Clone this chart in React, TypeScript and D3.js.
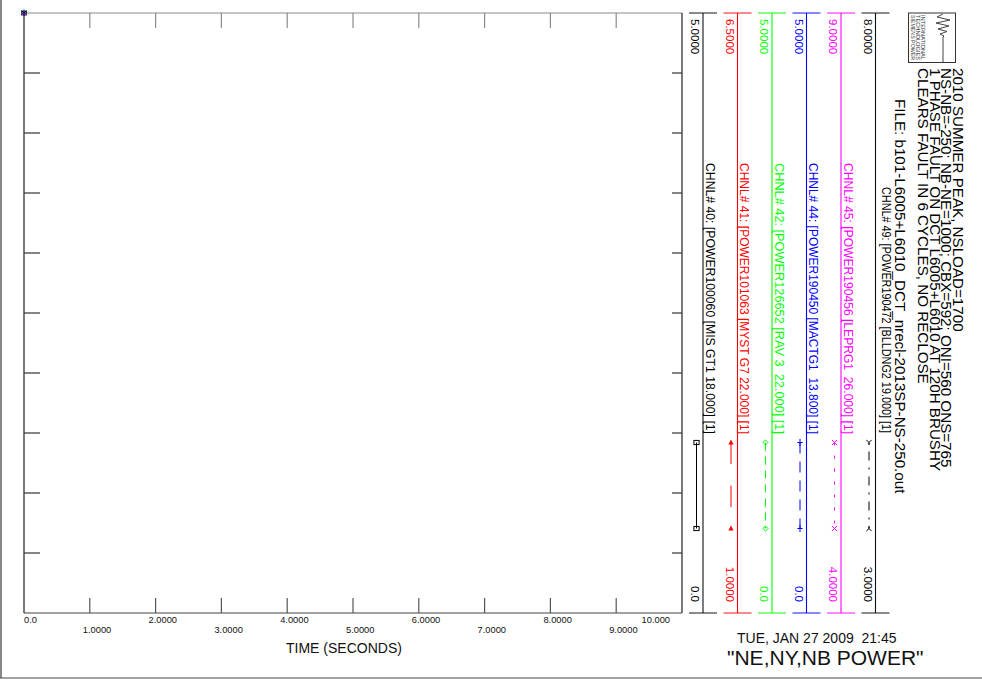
import React from "react";
import * as d3 from "d3";

// ---------- data ----------
const timeTicks = [0, 1, 2, 3, 4, 5, 6, 7, 8, 9, 10];
const timeTickLabels = ["0.0", "1.0000", "2.0000", "3.0000", "4.0000", "5.0000", "6.0000", "7.0000", "8.0000", "9.0000", "10.000"];
const yDivisions = [0, 1, 2, 3, 4, 5, 6, 7, 8, 9, 10];

const channelIds = [40, 41, 42, 44, 45, 49];
const channelNames = [
  "CHNL# 40: [POWER100060 [MIS GT1 18.000] [1]",
  "CHNL# 41: [POWER101063 [MYST G7 22.000] [1]",
  "CHNL# 42: [POWER126652 [RAV 3  22.000] [1]",
  "CHNL# 44: [POWER190450 [MACTG1  13.800] [1]",
  "CHNL# 45: [POWER190456 [LEPRG1  26.000] [1]",
  "CHNL# 49: [POWER190472 [BLLDNG2 19.000] [1]",
];
const channelMax = [5, 6.5, 5, 5, 9, 8];
const channelMaxLabels = ["5.0000", "6.5000", "5.0000", "5.0000", "9.0000", "8.0000"];
const channelMin = [0, 1, 0, 0, 4, 3];
const channelMinLabels = ["0.0", "1.0000", "0.0", "0.0", "4.0000", "3.0000"];
const channelColors = ["#000000", "#ff0000", "#00ff00", "#0000ff", "#ff00ff", "#000000"];
const capColors = ["#6e6e6e", "#ff6a6a", "#66ff66", "#6a6aff", "#ff6aff", "#6e6e6e"];
const channelMarkers = ["square", "triangle", "diamond", "plus", "cross", "fork"];
const channelDashes = ["", "21.5,21.5", "8,6", "11,8", "3,10", "2,7,9,7"];

const headerLines = [
  "2010 SUMMER PEAK, NSLOAD=1700",
  "NS-NB=-250; NB-NE=1000; CBX=592; ONI=560 ONS=765",
  "1 PHASE FAULT ON DCT L6005+L6010 AT 120H BRUSHY",
  "CLEARS FAULT IN 6 CYCLES, NO RECLOSE",
];
const fileLine = "FILE: b101-L6005+L6010_DCT_nrecl-2013SP-NS-250.out";
const logoLines = ["SIEMENS POWER", "TECHNOLOGIES", "INTERNATIONAL"];
const axisTitle = "TIME (SECONDS)";
const dateText = "TUE, JAN 27 2009  21:45";
const titleText = "\"NE,NY,NB POWER\"";

// ---------- layout ----------
const W = 982;
const H = 682;
const FONT = "'Liberation Sans', Arial, Helvetica, sans-serif";
const plot = { left: 24, right: 682, top: 13, bottom: 613 };

const x = d3.scaleLinear().domain([0, 10]).range([plot.left, plot.right]);
const y = d3.scaleLinear().domain([0, 10]).range([plot.bottom, plot.top]);
const col = d3.scalePoint<number>().domain(channelIds).range([703, 875.5]);

function Marker({ cx, cy, type, color, s = 1, flip = false }: any) {
  const r = 2.6 * s;
  switch (type) {
    case "square":
      return <rect x={cx - r} y={cy - r * 0.8} width={2 * r} height={1.6 * r} fill="none" stroke={color} strokeWidth={1} />;
    case "triangle":
      return <path d={`M${cx},${cy - r - 0.5} L${cx + r},${cy + r * 0.8} L${cx - r},${cy + r * 0.8} Z`} fill={color} />;
    case "diamond":
      return <path d={`M${cx},${cy - r} L${cx + r},${cy} L${cx},${cy + r} L${cx - r},${cy} Z`} fill="none" stroke={color} strokeWidth={1} />;
    case "plus":
      return <path d={`M${cx - r},${cy} L${cx + r},${cy} M${cx},${cy - r - 1} L${cx},${cy + r + 1}`} stroke={color} strokeWidth={1} />;
    case "cross":
      return <path d={`M${cx - r},${cy - r} L${cx + r},${cy + r} M${cx + r},${cy - r} L${cx - r},${cy + r}`} stroke={color} strokeWidth={1} />;
    case "fork": {
      const d = flip ? -1 : 1;
      return (
        <path
          d={`M${cx - r},${cy - d * r} L${cx},${cy} L${cx + r},${cy - d * r} M${cx},${cy} L${cx},${cy + d * r}`}
          stroke={color}
          strokeWidth={1}
          fill="none"
        />
      );
    }
    default:
      return null;
  }
}

function VText({ x0, y0, size, fill = "#000", anchor = "start", children, len, stretch = 1 }: any) {
  return (
    <text
      transform={`translate(${x0},${y0}) rotate(90) scale(${stretch},1)`}
      fontSize={size}
      fill={fill}
      textAnchor={anchor}
      fontFamily={FONT}
      style={{ whiteSpace: "pre" }}
      {...(len ? { textLength: len, lengthAdjust: "spacingAndGlyphs" } : {})}
    >
      {children}
    </text>
  );
}

export default function App() {
  const innerTicks = timeTicks.slice(1, -1);
  const innerY = yDivisions.slice(1, -1);
  const last = timeTicks.length - 1;
  const sampleTop = 442.5;
  const sampleBottom = 528.5;

  return (
    <svg
      width={W}
      height={H}
      viewBox={`0 0 ${W} ${H}`}
      style={{ position: "absolute", left: 0, top: 0, background: "#fff" }}
      fontFamily={FONT}
    >
      <rect x={0} y={0} width={W} height={H} fill="#fff" />
      {/* outer frame */}
      <line x1={1} y1={0} x2={1} y2={678} stroke="#888" strokeWidth={2} />
      <line x1={0} y1={678} x2={W} y2={678} stroke="#444" strokeWidth={1.2} />

      {/* plot frame */}
      <line x1={plot.left} y1={plot.top} x2={plot.right} y2={plot.top} stroke="#8a8a8a" strokeWidth={1.2} />
      <line x1={plot.left} y1={plot.top} x2={plot.left} y2={plot.bottom} stroke="#222" strokeWidth={1.2} />
      <line x1={plot.right} y1={plot.top} x2={plot.right} y2={plot.bottom} stroke="#222" strokeWidth={1.2} />
      <line x1={plot.left} y1={plot.bottom} x2={plot.right} y2={plot.bottom} stroke="#444" strokeWidth={1.2} />

      {/* vertical ticks (top and bottom) */}
      {innerTicks.map((t) => (
        <g key={"xt" + t}>
          <line x1={x(t)} y1={plot.top} x2={x(t)} y2={plot.top + 15} stroke="#8a8a8a" strokeWidth={1.2} />
          <line x1={x(t)} y1={plot.bottom} x2={x(t)} y2={plot.bottom - 15} stroke="#555" strokeWidth={1.2} />
        </g>
      ))}
      {/* horizontal ticks (left and right) */}
      {innerY.map((v) => (
        <g key={"yt" + v}>
          <line x1={plot.left} y1={y(v)} x2={plot.left + 16} y2={y(v)} stroke="#333" strokeWidth={1.2} />
          <line x1={plot.right} y1={y(v)} x2={plot.right - 10} y2={y(v)} stroke="#333" strokeWidth={1.2} />
        </g>
      ))}

      {/* x tick labels, staggered */}
      {timeTicks.map((t, i) => {
        const tx = i === 0 ? x(t) : i === last ? x(t) - 12 : x(t) - 7;
        return (
          <text
            key={"xl" + t}
            x={tx}
            y={i % 2 === 0 ? 623 : 633}
            fontSize={9.3}
            textAnchor={i === last ? "end" : "start"}
            fill="#111"
          >
            {timeTickLabels[i]}
          </text>
        );
      })}
      <text x={286} y={653} fontSize={14} fill="#111">
        {axisTitle}
      </text>

      {/* initial channel points at t = 0 */}
      {channelIds.map((id, i) => (
        <Marker key={"o" + id} cx={x(0)} cy={plot.top} type={channelMarkers[i]} color={channelColors[i]} s={0.9} />
      ))}

      {/* legend columns */}
      {channelIds.map((id, i) => {
        const cx = col(id) as number;
        const c = channelColors[i];
        const sx = cx - 6.5;
        const isLast = id === 49;
        return (
          <g key={"ch" + id}>
            <line x1={cx - 14} y1={plot.top} x2={cx + 14} y2={plot.top} stroke={capColors[i]} strokeWidth={1.6} />
            <line x1={cx - 14} y1={plot.bottom} x2={cx + 14} y2={plot.bottom} stroke={capColors[i]} strokeWidth={1.6} />
            <line x1={cx} y1={plot.top} x2={cx} y2={plot.bottom} stroke={c === "#000000" ? "#111" : c} strokeWidth={1.1} />
            <VText x0={cx - 12} y0={19} size={11.5} fill={c}>
              {channelMaxLabels[i]}
            </VText>
            <VText x0={cx - 12} y0={602} size={11.5} fill={c} anchor="end">
              {channelMinLabels[i]}
            </VText>
            <VText x0={cx + (isLast ? 6.5 : 2.5)} y0={isLast ? 187 : 163} size={12} fill={c} len={isLast ? 246 : 271}>
              {channelNames[i]}
            </VText>
            <line
              x1={sx}
              y1={sampleTop}
              x2={sx}
              y2={sampleBottom}
              stroke={c}
              strokeWidth={1}
              strokeDasharray={channelDashes[i] || undefined}
            />
            <Marker cx={sx} cy={sampleTop} type={channelMarkers[i]} color={c} />
            <Marker cx={sx} cy={sampleBottom} type={channelMarkers[i]} color={c} flip />
          </g>
        );
      })}

      {/* header block */}
      {headerLines.map((l, i) => (
        <VText key={"h" + i} x0={953 - i * 11.7} y0={68} size={14} fill="#000" stretch={1.085}>
          {l}
        </VText>
      ))}
      <VText x0={895} y0={99} size={14} fill="#000" stretch={1.085}>
        {fileLine}
      </VText>

      {/* logo */}
      <rect x={908.5} y={13} width={47} height={49.5} fill="#fff" stroke="#333" strokeWidth={1} />
      {logoLines.map((l, i) => (
        <VText key={"lg" + i} x0={910.5 + i * 5} y0={15} size={5} fill="#333" len={45}>
          {l}
        </VText>
      ))}
      <path
        d="M943,14 L937,17 L950,20 L936,23 L949,26 L938,29 L947,31.5 L940,34 L944,36 L943,37 L943,62.5"
        fill="none"
        stroke="#444"
        strokeWidth={1}
      />

      {/* footer */}
      <text x={737} y={643} fontSize={14} fill="#111" style={{ whiteSpace: "pre" }}>
        {dateText}
      </text>
      <text x={727} y={665} fontSize={21} fill="#111">
        {titleText}
      </text>
    </svg>
  );
}
